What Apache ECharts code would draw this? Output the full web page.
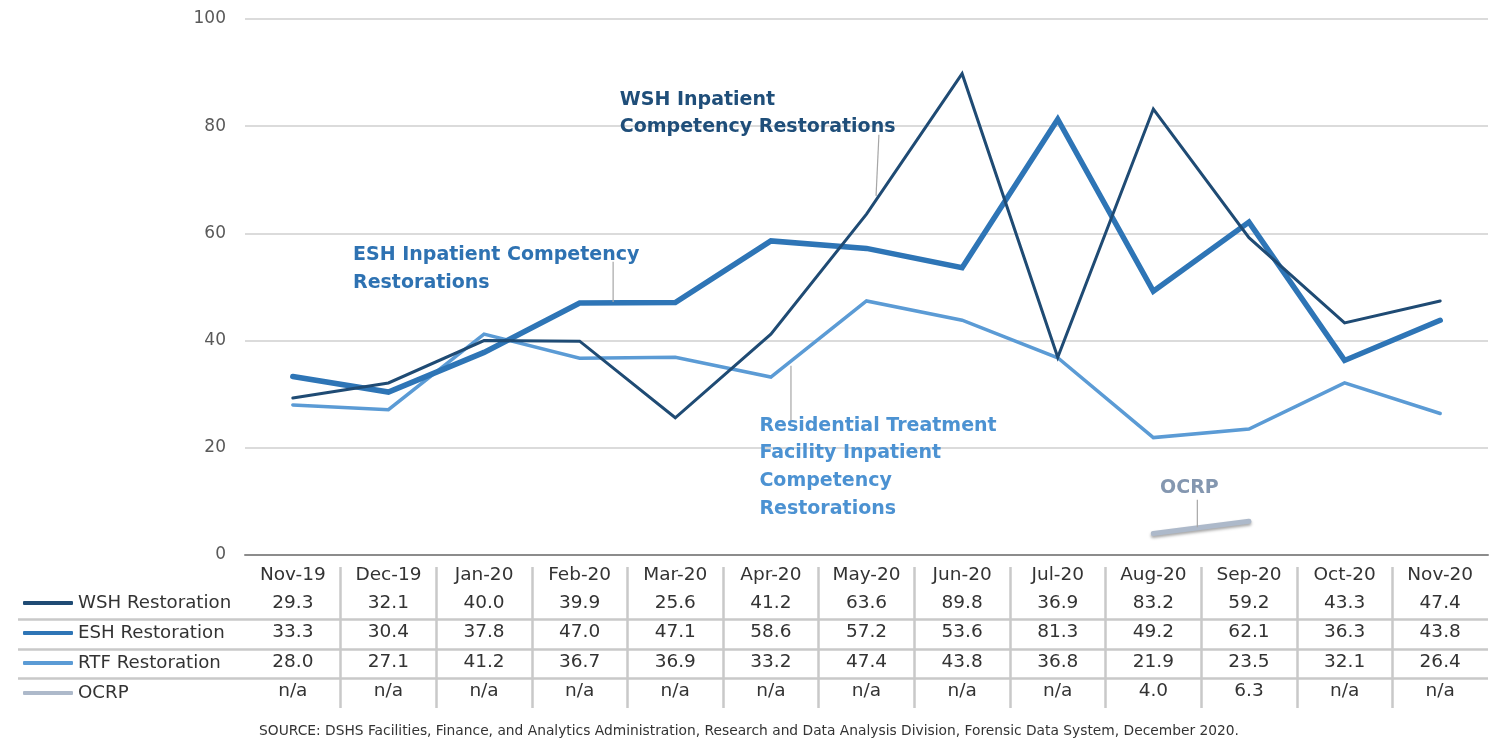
<!DOCTYPE html>
<html>
<head>
<meta charset="utf-8">
<script src="https://cdn.jsdelivr.net/npm/echarts@6/dist/echarts.min.js"></script>
<style>html,body{margin:0;padding:0;background:#fff;}#c{width:1498px;height:740px;}</style>
</head>
<body>
<div id="c"></div>
<script>
// ---- data ----
const months = ['Nov-19','Dec-19','Jan-20','Feb-20','Mar-20','Apr-20','May-20','Jun-20','Jul-20','Aug-20','Sep-20','Oct-20','Nov-20'];
const wsh  = [29.3, 32.1, 40.0, 39.9, 25.6, 41.2, 63.6, 89.8, 36.9, 83.2, 59.2, 43.3, 47.4];
const esh  = [33.3, 30.4, 37.8, 47.0, 47.1, 58.6, 57.2, 53.6, 81.3, 49.2, 62.1, 36.3, 43.8];
const rtf  = [28.0, 27.1, 41.2, 36.7, 36.9, 33.2, 47.4, 43.8, 36.8, 21.9, 23.5, 32.1, 26.4];
const ocrp = [null, null, null, null, null, null, null, null, null, 4.0, 6.3, null, null];
const seriesNames = ['WSH Restoration', 'ESH Restoration', 'RTF Restoration', 'OCRP'];
const yTicks = [0, 20, 40, 60, 80, 100];
const sourceText = 'SOURCE: DSHS Facilities, Finance, and Analytics Administration, Research and Data Analysis Division, Forensic Data System, December 2020.';

// annotations (category-index offset, value)
const annTexts = ['WSH Inpatient\nCompetency Restorations', 'ESH Inpatient Competency\nRestorations', 'Residential Treatment\nFacility Inpatient\nCompetency\nRestorations', 'OCRP'];
const annAnchors = [[3.42, 87.4], [0.63, 58.6], [4.88, 26.7], [9.07, 14.7]];
const annLineHeights = [27, 28, 27.7, 24];
const leaderFrom = [[6.13, 78.4], [3.35, 54.7], [5.21, 35.3], [9.46, 10.3]];
const leaderTo   = [[6.10, 67.0], [3.35, 47.2], [5.21, 24.8], [9.46, 5.2]];

const colors = ['#1F4B74', '#2E75B6', '#5B9BD5', '#ADB9CA'];
const annColors = ['#1F4E79', '#2E72B2', '#4C92D2', '#8497B0'];
const FONT = '"DejaVu Sans", sans-serif';
const textCol = '#333333';

const rows = [wsh, esh, rtf, ocrp];
const cells = [];
rows.forEach((arr, r) => {
  arr.forEach((v, i) => {
    cells.push({ value: [i, r, v == null ? 'n/a' : v.toFixed(1)] });
  });
});

const chart = echarts.init(document.getElementById('c'));
const lineWidths = [3, 5.5, 3.5, 5];
const mainSeries = [wsh, esh, rtf, ocrp].map((d, k) => ({
  name: seriesNames[k],
  type: 'line',
  xAxisIndex: 0, yAxisIndex: 0,
  data: d,
  symbol: 'none',
  connectNulls: false,
  z: k === 0 ? 4 : (k === 1 ? 3 : 2),
  lineStyle: Object.assign({ color: colors[k], width: lineWidths[k], cap: 'round', join: 'miter' },
    k === 3 ? { shadowColor: 'rgba(0,0,0,0.35)', shadowBlur: 3, shadowOffsetY: 2 } : {}),
  itemStyle: { color: colors[k] },
  silent: true
}));

const option = {
  animation: false,
  backgroundColor: '#ffffff',
  title: {
    text: sourceText, left: 'center', top: 719,
    textStyle: { fontFamily: FONT, fontSize: 13.8, fontWeight: 'normal', color: textCol }
  },
  legend: {
    orient: 'vertical', left: 23, top: 593, itemGap: 10, padding: 0,
    itemWidth: 50, itemHeight: 4, icon: 'roundRect', selectedMode: false,
    textStyle: { fontFamily: FONT, fontSize: 18.2, color: textCol, lineHeight: 20 },
    data: seriesNames.map((n, k) => ({ name: n, itemStyle: { color: colors[k] } }))
  },
  grid: [
    { left: 245, right: 10, top: 19, bottom: 185 },   // plot
    { left: 245, right: 10, top: 567, bottom: 32 },   // table vertical lines
    { left: 18, right: 10, top: 590, bottom: 32 },    // table horizontal lines
    { left: 245, right: 10, top: 590, bottom: 32 }    // table cells
  ],
  xAxis: [
    { type: 'category', gridIndex: 0, data: months, boundaryGap: true,
      axisLine: { show: true, lineStyle: { color: '#8C8C8C', width: 2 } },
      axisTick: { show: false },
      axisLabel: { interval: 0, margin: 11, fontFamily: FONT, fontSize: 18.5, color: textCol },
      splitLine: { show: false } },
    { type: 'category', gridIndex: 1, data: months, boundaryGap: true,
      axisLine: { show: false }, axisTick: { show: false }, axisLabel: { show: false },
      splitLine: { show: true, interval: 0, showMinLine: false, showMaxLine: false, lineStyle: { color: '#C9C9C9', width: 2.5 } } },
    { type: 'value', gridIndex: 2, show: false, min: 0, max: 1, splitLine: { show: false } },
    { type: 'category', gridIndex: 3, data: months, show: false, boundaryGap: true }
  ],
  yAxis: [
    { type: 'value', gridIndex: 0, min: 0, max: 100, interval: 20,
      axisLine: { show: false }, axisTick: { show: false },
      axisLabel: { margin: 19, fontFamily: FONT, fontSize: 17, color: '#595959',
        formatter: v => (yTicks.indexOf(v) >= 0 ? String(v) : '') },
      splitLine: { show: true, lineStyle: { color: '#CFCFCF', width: 1.5 } } },
    { type: 'value', gridIndex: 1, show: false, min: 0, max: 1, splitLine: { show: false } },
    { type: 'category', gridIndex: 2, data: seriesNames, inverse: true, boundaryGap: true,
      axisLine: { show: false }, axisTick: { show: false }, axisLabel: { show: false },
      splitLine: { show: true, interval: 0, showMinLine: false, showMaxLine: false, lineStyle: { color: '#C9C9C9', width: 2.5 } } },
    { type: 'category', gridIndex: 3, data: seriesNames, inverse: true, show: false, boundaryGap: true }
  ],
  series: mainSeries.concat([{
    type: 'scatter', xAxisIndex: 3, yAxisIndex: 3,
    data: cells, symbol: 'circle', symbolSize: 0, silent: true,
    itemStyle: { opacity: 1, color: textCol },
    label: { show: true, position: 'inside', offset: [0, -2], fontFamily: FONT, fontSize: 18.5, color: textCol, opacity: 1,
      formatter: p => p.value[2] }
  }])
};
chart.setOption(option);

function pt(a) {
  const p0 = chart.convertToPixel({ gridIndex: 0 }, [0, a[1]]);
  const p1 = chart.convertToPixel({ gridIndex: 0 }, [1, a[1]]);
  return [p0[0] + a[0] * (p1[0] - p0[0]), p0[1]];
}
const graphics = [];
annTexts.forEach((t, k) => {
  const p = pt(annAnchors[k]);
  graphics.push({ type: 'text', z: 100, silent: true,
    style: { text: t, x: p[0], y: p[1], fill: annColors[k], font: 'bold 19px ' + FONT,
      lineHeight: annLineHeights[k], verticalAlign: 'top', align: 'left' } });
  const a = pt(leaderFrom[k]), b = pt(leaderTo[k]);
  graphics.push({ type: 'line', z: 99, silent: true,
    shape: { x1: a[0], y1: a[1], x2: b[0], y2: b[1] },
    style: { stroke: '#A6A6A6', lineWidth: 1.2 } });
});
chart.setOption({ graphic: graphics });
</script>
</body>
</html>
